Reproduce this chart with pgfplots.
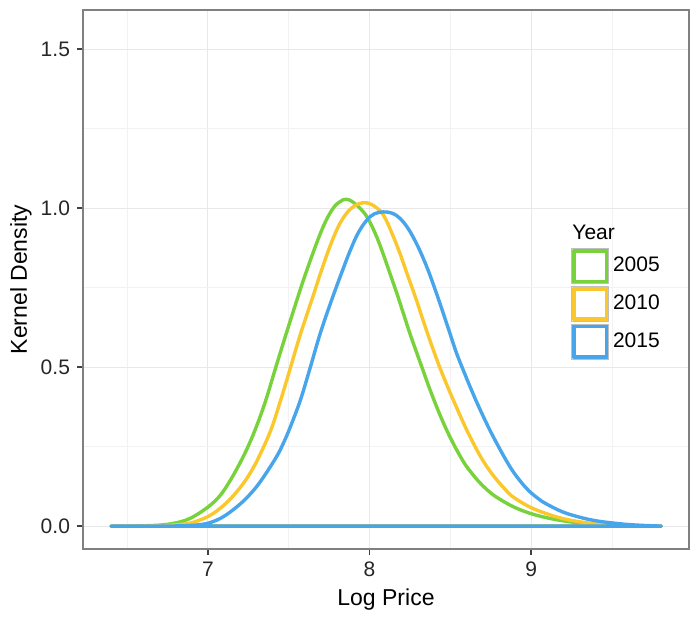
\documentclass[border=0pt]{standalone}
\usepackage{pgfplots}
\pgfplotsset{compat=1.18}
\usepackage{pgfplotstable}
\usepackage{fontspec}
\setmainfont{Liberation Sans}
\definecolor{c05}{RGB}{120,210,60}
\definecolor{c10}{RGB}{250,200,45}
\definecolor{c15}{RGB}{70,165,235}

\pgfplotstableread{
x y
6.40 0
6.55 0.0005
6.70 0.003
6.80 0.010
6.88 0.022
6.95 0.042
7.02 0.068
7.08 0.099
7.14 0.145
7.20 0.200
7.25 0.252
7.30 0.313
7.357 0.394
7.418 0.496
7.48 0.598
7.552 0.713
7.60 0.787
7.675 0.893
7.73 0.960
7.78 1.003
7.82 1.021
7.855 1.028
7.90 1.018
7.962 0.988
8.00 0.958
8.044 0.910
8.085 0.855
8.126 0.795
8.167 0.735
8.21 0.668
8.249 0.607
8.29 0.548
8.331 0.490
8.372 0.432
8.434 0.352
8.50 0.278
8.578 0.205
8.63 0.168
8.68 0.138
8.73 0.113
8.783 0.092
8.885 0.062
8.988 0.041
9.09 0.027
9.193 0.017
9.30 0.010
9.398 0.006
9.55 0.002
9.70 0.0005
9.806 0
}\dataA

\pgfplotstableread{
x y
6.40 0
6.60 0.0005
6.75 0.002
6.875 0.008
6.95 0.019
7.018 0.035
7.09 0.062
7.16 0.097
7.223 0.137
7.27 0.174
7.316 0.218
7.388 0.300
7.449 0.394
7.51 0.497
7.572 0.603
7.644 0.713
7.70 0.800
7.757 0.882
7.81 0.945
7.86 0.985
7.91 1.008
7.962 1.017
8.01 1.012
8.064 0.992
8.10 0.965
8.146 0.912
8.19 0.855
8.228 0.800
8.29 0.711
8.331 0.648
8.38 0.575
8.434 0.500
8.49 0.430
8.537 0.375
8.578 0.328
8.618 0.285
8.68 0.225
8.73 0.184
8.783 0.148
8.835 0.118
8.885 0.093
8.988 0.061
9.09 0.040
9.193 0.024
9.295 0.014
9.40 0.007
9.50 0.003
9.65 0.0008
9.806 0
}\dataB

\pgfplotstableread{
x y
6.40 0
6.70 0.0003
6.85 0.001
6.957 0.005
7.02 0.012
7.08 0.025
7.14 0.045
7.203 0.071
7.244 0.091
7.29 0.117
7.326 0.141
7.37 0.174
7.429 0.222
7.47 0.264
7.51 0.312
7.572 0.396
7.634 0.500
7.695 0.606
7.767 0.713
7.83 0.800
7.88 0.866
7.93 0.922
7.983 0.962
8.03 0.982
8.085 0.988
8.14 0.984
8.188 0.968
8.24 0.935
8.29 0.889
8.33 0.845
8.372 0.792
8.434 0.703
8.49 0.618
8.537 0.546
8.598 0.468
8.64 0.417
8.68 0.371
8.73 0.317
8.775 0.272
8.834 0.217
8.885 0.174
8.94 0.137
8.988 0.110
9.04 0.088
9.09 0.071
9.193 0.045
9.30 0.028
9.398 0.017
9.50 0.010
9.60 0.005
9.70 0.002
9.806 0
}\dataC

\begin{document}
\begin{tikzpicture}
\begin{axis}[
  name=ax,
  at={(0,0)}, anchor=south west,
  scale only axis, width=303pt, height=269.5pt,
  xmin=6.227, xmax=9.977, ymin=-0.072, ymax=1.623,
  xtick={7,8,9}, ytick={0,0.5,1,1.5},
  minor xtick={6.5,7.5,8.5,9.5}, minor ytick={0.25,0.75,1.25},
  grid=both,
  major grid style={draw=black!9, line width=0.5pt},
  minor grid style={draw=black!5, line width=0.4pt},
  axis line style={draw=black!50, line width=0.6pt},
  tick pos=left,
  tick align=outside,
  major tick length=3pt,
  minor tick length=0pt,
  tick style={black!75, line width=0.7pt},
  /pgf/number format/assume math mode=true,
  yticklabel style={/pgf/number format/.cd, fixed, fixed zerofill, precision=1},
  ticklabel style={font=\fontsize{10.5}{12}\selectfont, text=black!85},
  xlabel={Log Price}, ylabel={Kernel Density},
  label style={font=\fontsize{11.5}{13}\selectfont},
  xlabel style={at={(axis description cs:0.5,-0.0946)}, anchor=center},
  ylabel style={at={(axis description cs:-0.1026,0.5)}, anchor=center, rotate=0},
  legend style={at={(rel axis cs:0.8053,0.5584)}, anchor=north west, draw=none, fill=none,
    font=\fontsize{10.5}{12}\selectfont, row sep=1.2pt, inner sep=0pt,
    nodes={inner sep=2pt}},
  legend cell align=left,
  legend image code/.code={
    \draw[#1, line width=2pt, sharp corners] (1pt,-7.7pt) rectangle (17.5pt,7.7pt);
    \draw[black!25, line width=0.3pt] (0pt,-8.7pt) rectangle (18.5pt,8.7pt);
  },
  every axis plot/.append style={line width=1.7pt, line join=round},
]
\addplot[c05, smooth, tension=0.6] table[x=x,y=y] {\dataA} \closedcycle;
\addlegendentry{2005}
\addplot[c10, smooth, tension=0.6] table[x=x,y=y] {\dataB} \closedcycle;
\addlegendentry{2010}
\addplot[c15, smooth, tension=0.6] table[x=x,y=y] {\dataC} \closedcycle;
\addlegendentry{2015}
\node[anchor=base west, font=\fontsize{10.5}{12}\selectfont, inner sep=0pt] at (rel axis cs:0.807,0.5746) {Year};
\end{axis}
\path[use as bounding box] ([xshift=-41.5pt,yshift=-33.5pt]ax.south west) rectangle ([xshift=5.5pt,yshift=5pt]ax.north east);
\end{tikzpicture}
\end{document}
